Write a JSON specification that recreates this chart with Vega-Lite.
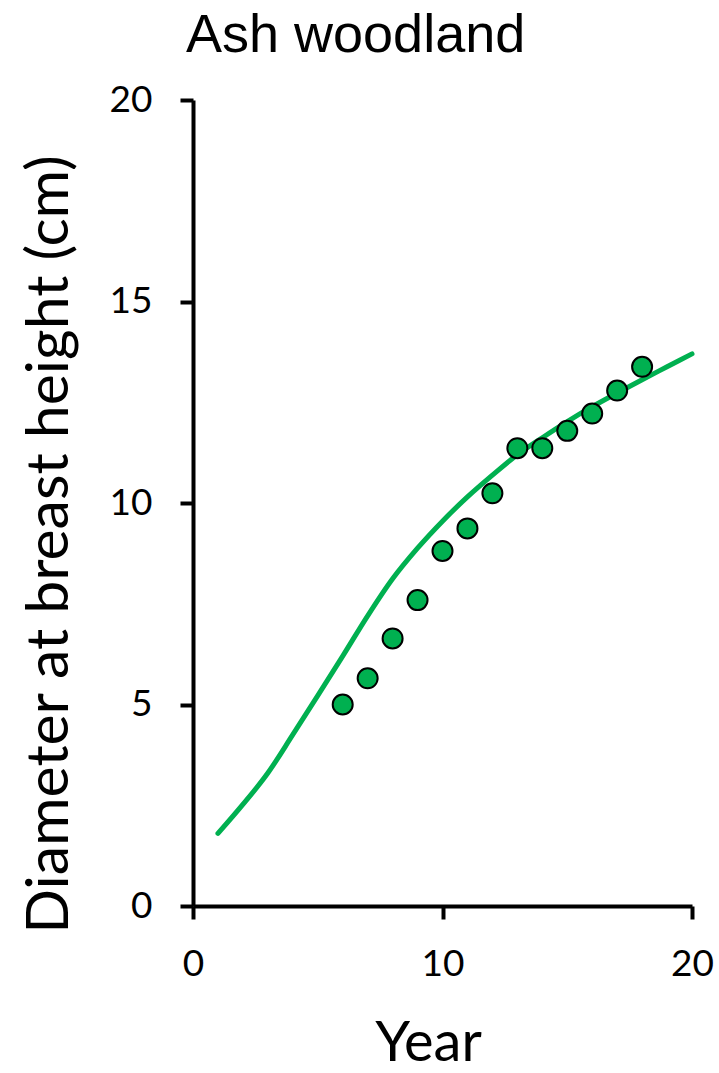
{
  "$schema": "https://vega.github.io/schema/vega-lite/v6.json",
  "autosize": "none",
  "padding": {"left": 193, "top": 100, "right": 27, "bottom": 167},
  "width": 499,
  "height": 806,
  "background": "white",
  "title": {
    "text": "Ash woodland",
    "anchor": "start",
    "frame": "group",
    "font": "Liberation Sans",
    "fontSize": 54,
    "fontWeight": "normal",
    "color": "black",
    "baseline": "alphabetic",
    "offset": 0,
    "dx": -7,
    "dy": 25
  },
  "config": {
    "view": {"stroke": null},
    "axis": {
      "grid": false,
      "domainColor": "black",
      "domainWidth": 4,
      "tickColor": "black",
      "tickWidth": 4,
      "tickSize": 13,
      "labelFont": "Lato",
      "labelFontSize": 37,
      "labelColor": "black",
      "titleFont": "Lato",
      "titleFontWeight": "normal",
      "titleColor": "black"
    }
  },
  "datasets": {
    "fit": [
      {"year": 1, "dbh": 1.8},
      {"year": 2, "dbh": 2.52},
      {"year": 3, "dbh": 3.3},
      {"year": 4, "dbh": 4.25},
      {"year": 5, "dbh": 5.22},
      {"year": 6, "dbh": 6.2},
      {"year": 7, "dbh": 7.2},
      {"year": 8, "dbh": 8.12},
      {"year": 9, "dbh": 8.88},
      {"year": 10, "dbh": 9.55},
      {"year": 11, "dbh": 10.15},
      {"year": 12, "dbh": 10.69},
      {"year": 13, "dbh": 11.2},
      {"year": 14, "dbh": 11.62},
      {"year": 15, "dbh": 12.02},
      {"year": 16, "dbh": 12.39},
      {"year": 17, "dbh": 12.73},
      {"year": 18, "dbh": 13.06},
      {"year": 19, "dbh": 13.38},
      {"year": 20, "dbh": 13.7}
    ],
    "observed": [
      {"year": 6, "dbh": 5.0},
      {"year": 7, "dbh": 5.65},
      {"year": 8, "dbh": 6.64},
      {"year": 9, "dbh": 7.59},
      {"year": 10, "dbh": 8.81},
      {"year": 11, "dbh": 9.37},
      {"year": 12, "dbh": 10.24},
      {"year": 13, "dbh": 11.36},
      {"year": 14, "dbh": 11.36},
      {"year": 15, "dbh": 11.79},
      {"year": 16, "dbh": 12.22},
      {"year": 17, "dbh": 12.79},
      {"year": 18, "dbh": 13.38}
    ]
  },
  "encoding": {
    "x": {
      "field": "year",
      "type": "quantitative",
      "scale": {"domain": [0, 20], "nice": false},
      "axis": {
        "values": [0, 10, 20],
        "title": "Year",
        "titleFontSize": 56,
        "titleX": 235,
        "titleY": 154,
        "titleBaseline": "alphabetic",
        "titleAlign": "center",
        "labelBaseline": "alphabetic",
        "labelPadding": 56,
        "labelFlush": false
      }
    },
    "y": {
      "field": "dbh",
      "type": "quantitative",
      "scale": {"domain": [0, 20], "nice": false},
      "axis": {
        "values": [0, 5, 10, 15, 20],
        "title": "Diameter at breast height (cm)",
        "titleFontSize": 59,
        "titleAngle": -90,
        "titleX": -126,
        "titleY": 444,
        "titleBaseline": "alphabetic",
        "titleAlign": "center",
        "labelPadding": 28,
        "labelBaseline": "middle",
        "labelFlush": false
      }
    }
  },
  "layer": [
    {
      "data": {"name": "fit"},
      "mark": {"type": "line", "color": "#00b050", "strokeWidth": 5, "interpolate": "monotone", "strokeCap": "round"}
    },
    {
      "data": {"name": "observed"},
      "mark": {"type": "point", "shape": "circle", "filled": true, "size": 400, "fill": "#00b050", "stroke": "black", "strokeWidth": 2, "opacity": 1}
    }
  ]
}
